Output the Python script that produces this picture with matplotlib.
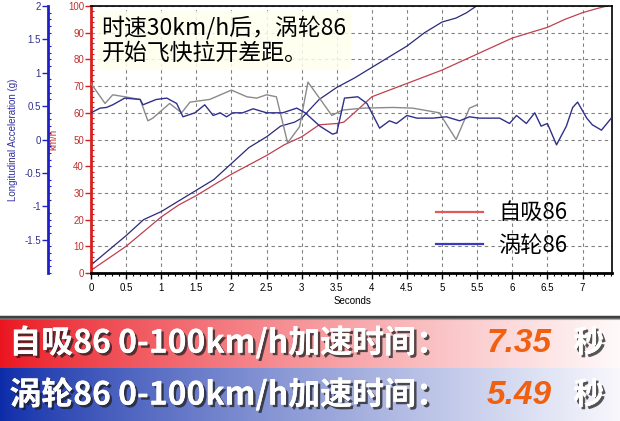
import numpy as np
import matplotlib
matplotlib.use('Agg')
import matplotlib.pyplot as plt
import matplotlib.patheffects as pe
from matplotlib.lines import Line2D
from matplotlib.ticker import MultipleLocator

plt.rcParams['font.family'] = ['Liberation Sans', 'Noto Sans CJK SC', 'DejaVu Sans']
CJK = ['Noto Sans CJK SC', 'DejaVu Sans']

# speed, NA car (km/h)
t_na = [0, 0.25, 0.5, 0.75, 1.0, 1.25, 1.5, 1.75, 2.0, 2.25, 2.5, 2.75, 3.0, 3.25, 3.5, 3.6,
        3.75, 4.0, 4.25, 4.5, 4.75, 5.0, 5.25, 5.5, 5.75, 6.0, 6.25, 6.5, 6.75, 7.0, 7.2, 7.35]
v_na = [1, 5.5, 10, 15.5, 21, 25.5, 29, 33, 37, 40.5, 44, 48, 51, 55.5, 56, 56.5,
        60, 66, 68.5, 71, 73.5, 76, 79, 82, 85, 88, 90, 92, 95, 97.5, 99, 100]

# speed, turbo car (km/h)
t_tb = [0, 0.25, 0.5, 0.75, 1.0, 1.25, 1.5, 1.75, 2.0, 2.25, 2.5, 2.7, 2.9, 3.0, 3.25,
        3.5, 3.75, 4.0, 4.25, 4.5, 4.75, 5.0, 5.2, 5.35, 5.49]
v_tb = [3, 8.5, 14, 20, 23, 27, 31, 35, 41, 47, 51, 55, 56.5, 58, 65,
        69.5, 73, 77, 81, 85, 90, 94, 95.5, 97.5, 100]

# longitudinal acceleration, gray trace (g)
t_acc_gray = [0, 0.2, 0.31, 0.48, 0.7, 0.81, 0.88, 1.12, 1.29, 1.41, 1.69, 2.0, 2.22, 2.36,
              2.5, 2.64, 2.8, 2.97, 3.09, 3.43, 3.58, 3.87, 4.3, 4.58, 4.96, 5.2, 5.39, 5.5]
g_gray = [0.84, 0.54, 0.67, 0.64, 0.60, 0.28, 0.32, 0.54, 0.40, 0.56, 0.60, 0.74, 0.64, 0.62,
          0.67, 0.64, -0.05, 0.19, 0.86, 0.36, 0.44, 0.47, 0.48, 0.47, 0.40, 0.0, 0.47, 0.52]

# longitudinal acceleration, blue trace (g)
t_acc_blue = [0, 0.13, 0.22, 0.31, 0.48, 0.7, 0.74, 0.93, 1.08, 1.22, 1.31, 1.48, 1.62, 1.74,
              1.84, 1.93, 2.02, 2.16, 2.31, 2.5, 2.73, 2.93, 3.05, 3.26, 3.44, 3.5, 3.61, 3.8,
              3.93, 4.11, 4.25, 4.35, 4.5, 4.64, 4.87, 5.06, 5.25, 5.39, 5.53, 5.82, 5.96, 6.06,
              6.2, 6.32, 6.41, 6.5, 6.63, 6.77, 6.86, 6.93, 7.06, 7.14, 7.27, 7.41]
g_blue = [0.40, 0.47, 0.48, 0.52, 0.62, 0.60, 0.52, 0.60, 0.62, 0.54, 0.34, 0.40, 0.52, 0.36,
          0.40, 0.34, 0.40, 0.40, 0.46, 0.40, 0.40, 0.47, 0.40, 0.20, 0.08, 0.10, 0.62, 0.64,
          0.54, 0.17, 0.28, 0.24, 0.36, 0.32, 0.32, 0.34, 0.28, 0.34, 0.32, 0.32, 0.24, 0.36,
          0.24, 0.40, 0.20, 0.24, -0.08, 0.20, 0.48, 0.56, 0.32, 0.22, 0.14, 0.32]

x_ticks = [0, 0.5, 1, 1.5, 2, 2.5, 3, 3.5, 4, 4.5, 5, 5.5, 6, 6.5, 7]
x_labels = ['0', '0.5', '1', '1.5', '2', '2.5', '3', '3.5', '4', '4.5', '5', '5.5', '6', '6.5', '7']
g_ticks = [2, 1.5, 1, 0.5, 0, -0.5, -1, -1.5]
g_labels = ['2', '1.5', '1', '0.5', '0', '-0.5', '-1', '-1.5']

series_names = ['自吸86', '涡轮86']
note = '时速30km/h后，涡轮86\n开始飞快拉开差距。'
banner_rows = ['自吸86 0-100km/h加速时间：', '涡轮86 0-100km/h加速时间：']
banner_times = ['7.35', '5.49']

W, H = 620, 421
fig = plt.figure(figsize=(6.2, 4.21), dpi=100)

ax = fig.add_axes([91 / W, 1 - 273 / H, 521 / W, 267 / H])
ax.set_xlim(0, 7.42)
ax.set_ylim(0, 100)
ax.set_xticks(x_ticks)
ax.set_xticklabels(x_labels)
ax.xaxis.set_minor_locator(MultipleLocator(0.1))
ax.set_yticks(np.arange(0, 101, 10))
ax.yaxis.set_minor_locator(MultipleLocator(2))
ax.grid(True, which='major', color='#808080', linestyle=(0, (3, 3)), linewidth=0.8)
ax.tick_params(axis='x', which='major', labelsize=7, length=4, width=1, colors='black', pad=3)
ax.tick_params(axis='x', which='minor', length=2.5, width=0.8)
ax.tick_params(axis='y', which='major', labelsize=7, length=4, width=1,
               color='#D02020', labelcolor='#C03030', pad=1)
ax.tick_params(axis='y', which='minor', length=2, width=0.8, color='#D02020', direction='in')
for s in ['top', 'right']:
    ax.spines[s].set_linewidth(1.2)
ax.spines['bottom'].set_linewidth(2)
ax.spines['left'].set_color('#D82020')
ax.spines['left'].set_linewidth(2)
ax.set_xlabel('Seconds', fontsize=7)
ax.xaxis.set_label_coords(0.502, -0.085)
ax.set_ylabel('km/h', fontsize=7, color='#C03030')
ax.yaxis.set_label_coords(-0.062, 0.5)

ax.plot(t_na, v_na, color='#C04050', lw=0.9)
ax.plot(t_tb, v_tb, color='#2A2A78', lw=0.9)

ax2 = ax.twinx()
ax2.set_ylim(-2, 2)
ax2.yaxis.tick_left()
ax2.yaxis.set_label_position('left')
for s in ['top', 'right', 'bottom']:
    ax2.spines[s].set_visible(False)
ax2.spines['left'].set_position(('axes', -43 / 521))
ax2.spines['left'].set_color('#2020C8')
ax2.spines['left'].set_linewidth(2)
ax2.set_yticks(g_ticks)
ax2.set_yticklabels(g_labels)
ax2.yaxis.set_minor_locator(MultipleLocator(0.1))
ax2.tick_params(axis='y', which='major', labelsize=7, length=4, width=1,
                color='#2020C8', labelcolor='#303090', pad=1)
ax2.tick_params(axis='y', which='minor', length=2, width=0.8, color='#2020C8', direction='in')
ax2.set_ylabel('Longitudinal Acceleration (g)', fontsize=7, color='#3030A0')
ax2.yaxis.set_label_coords(-0.14, 0.5)

ax2.plot(t_acc_gray, g_gray, color='#8A8A8A', lw=1.0)
ax2.plot(t_acc_blue, g_blue, color='#30308C', lw=1.0)

ax2.text(0.02, 0.965, note, transform=ax.transAxes, family=CJK, fontsize=16.5,
         va='top', ha='left', linespacing=1.15, zorder=10,
         bbox=dict(boxstyle='square,pad=0.2', facecolor='#FFFFEE', edgecolor='none', alpha=0.85))

handles = [Line2D([], [], color='#E05A5A', lw=1.6), Line2D([], [], color='#3A3AC0', lw=1.6)]
leg = ax2.legend(handles, series_names, loc='center left', bbox_to_anchor=(0.662, 0.165),
                 frameon=False, prop={'family': CJK, 'size': 16}, handlelength=2.1,
                 handletextpad=0.7, labelspacing=0.42, borderpad=0, borderaxespad=0)

# banner
bx = fig.add_axes([0, 0, 1, 106 / H])
bx.set_xlim(0, 1)
bx.set_ylim(0, 1)
bx.axis('off')
ramp = np.linspace(0, 1, 300) ** 0.8
red_l, red_r = np.array([0.92, 0.08, 0.12]), np.array([1.0, 0.98, 0.98])
blu_l, blu_r = np.array([0.05, 0.17, 0.66]), np.array([0.97, 0.97, 0.99])
red_img = red_l + (red_r - red_l) * ramp[:, None]
blu_img = blu_l + (blu_r - blu_l) * ramp[:, None]
bx.imshow(red_img[None, :, :], extent=[0, 1, 0.5, 0.97], aspect='auto')
bx.imshow(blu_img[None, :, :], extent=[0, 1, 0, 0.5], aspect='auto')
bx.axhline(0.985, color='#404040', lw=2.5)
bx.axhline(0.96, color='#909090', lw=1.5, alpha=0.5)

shadow = [pe.withSimplePatchShadow(offset=(1.8, -1.8), shadow_rgbFace='#202020', alpha=0.75),
          pe.Normal()]
row_y = [0.735, 0.245]
for y, label, tval in zip(row_y, banner_rows, banner_times):
    bx.text(0.015, y, label, family=CJK, fontsize=23, fontweight='bold', color='white',
            va='center', ha='left', path_effects=shadow)
    bx.text(0.785, y, tval, family='Liberation Sans', fontsize=24, fontweight='bold',
            style='italic', color='#F06010', va='center', ha='left')
    bx.text(0.925, y, '秒', family=CJK, fontsize=22, fontweight='bold', color='white',
            va='center', ha='left', path_effects=shadow)

fig.savefig('out.png', dpi=100)
